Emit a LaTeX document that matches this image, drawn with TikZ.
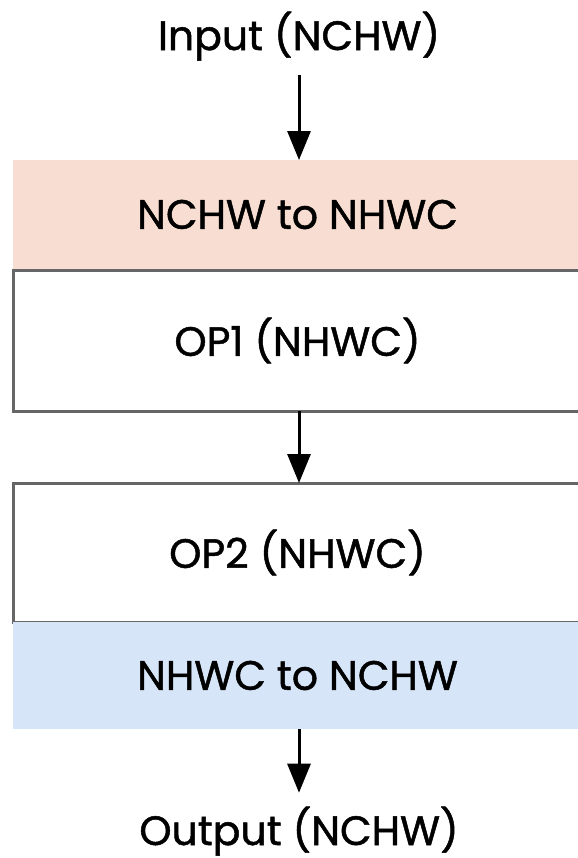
\documentclass[tikz,border=0pt]{standalone}
\usepackage{fontspec}
\newfontfamily\diagfont{Poppins}[FakeBold=1.2]
\usepackage{xcolor}
\usetikzlibrary{arrows.meta,positioning}

\definecolor{peach}{RGB}{248,222,210}
\definecolor{paleblue}{RGB}{214,230,248}
\definecolor{edgegray}{RGB}{102,102,102}

\begin{document}
\begin{tikzpicture}[
  x=0.5pt,y=-0.5pt,
  font=\diagfont\fontsize{20.5}{24}\selectfont,
  layer/.style={inner sep=0pt,outer sep=0pt,minimum width=284.5pt,align=center},
  opbox/.style={layer,draw=edgegray,line width=1.5pt,fill=white},
  label/.style={inner sep=0pt,outer sep=7pt,anchor=base},
  arrow/.style={-{Triangle[width=11.5pt,length=14.5pt]},line width=1.5pt}
]
\useasboundingbox (0,0) rectangle (578,858);
\node[layer,fill=peach,minimum height=54.5pt] (tonhwc) at (297.5,214.5) {NCHW to NHWC};
\node[opbox,minimum height=70.5pt,below=0.5pt of tonhwc] (op1) {OP1 (NHWC)};
\node[opbox,minimum height=69.5pt,below=36pt of op1] (op2) {OP2 (NHWC)};
\node[layer,fill=paleblue,minimum height=53.5pt,below=0pt of op2] (tonchw) {NHWC to NCHW};
\node[label] (input) at (299,50) {Input (NCHW)};
\node[label] (output) at (299,845) {Output (NCHW)};
\draw[arrow] (input.south) -- (input |- tonhwc.north);
\draw[arrow] (op1.south -| input) -- (op2.north -| input);
\draw[arrow] (tonchw.south -| input) -- (output.north);
\end{tikzpicture}
\end{document}
